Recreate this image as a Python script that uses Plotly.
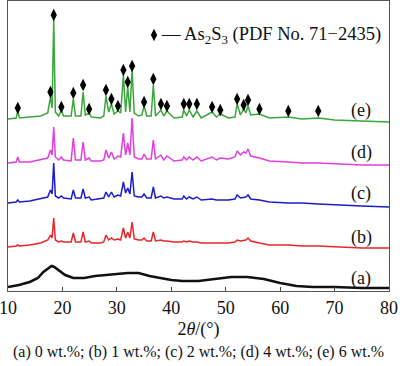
import plotly.graph_objects as go

# ---- data (2θ in degrees, intensity in arbitrary offset units) ----
two_theta = [10, 11.5, 11.8, 12.1, 14, 16, 17.3, 17.8, 18.1, 18.4, 18.7, 19.3, 19.8, 20.2,
             21.6, 22.0, 22.4, 23.4, 23.8, 24.2, 24.9, 25.3, 27, 27.6, 28.0, 28.5, 29.0,
             29.5, 30.2, 30.7, 31.2, 31.6, 32.0, 32.4, 32.8, 33.2, 34.0, 34.6, 35.0, 35.5,
             36.3, 36.7, 37.1, 38.1, 38.6, 39.2, 40.5, 42.0, 42.3, 42.8, 43.3, 44.0, 44.7,
             45.5, 47.5, 48.3, 49.0, 50.5, 51.7, 52.1, 52.7, 53.3, 53.7, 54.1, 54.6, 56.2,
             58, 61.5, 64, 67.0, 70, 75, 80]

int_e = [181, 182, 189, 182, 183, 184, 187, 203, 192, 280, 188, 184, 190, 184,
         184, 201, 184, 184, 208, 185, 187, 183, 182, 184, 204, 188, 196,
         186, 189, 187, 225, 188, 213, 188, 230, 187, 184, 185, 194, 184,
         184, 215, 184, 190, 184, 189, 182, 183, 190, 184, 190, 183, 189,
         182, 188, 183, 186, 182, 183, 196, 185, 191, 187, 194, 185, 186,
         182, 183, 181, 182, 180, 179, 178]

int_d = [137, 138, 143, 138, 138, 140, 142, 150, 145, 173, 143, 140, 143, 140,
         139, 162, 140, 140, 158, 140, 142, 139, 139, 140, 150, 142, 148,
         141, 144, 143, 167, 145, 157, 145, 182, 143, 141, 141, 146, 141,
         141, 160, 141, 145, 140, 144, 139, 140, 143, 140, 143, 140, 143,
         139, 143, 140, 142, 141, 143, 149, 145, 148, 147, 151, 144, 142,
         139, 138, 137, 137, 136, 135, 135]

int_c = [97, 98, 100, 98, 99, 101, 103, 110, 106, 137, 104, 102, 104, 102,
         101, 110, 102, 102, 111, 102, 103, 100, 101, 102, 108, 103, 108,
         103, 105, 104, 118, 107, 112, 106, 128, 104, 103, 103, 106, 102,
         102, 113, 102, 104, 102, 103, 101, 101, 104, 101, 103, 101, 103,
         100, 101, 100, 100, 100, 101, 105, 102, 103, 103, 105, 101, 100,
         98, 97, 97, 96, 95, 94, 93]

int_b = [53, 54, 55, 54, 55, 57, 60, 65, 62, 82, 60, 58, 59, 58,
         58, 67, 58, 58, 68, 58, 59, 57, 57, 58, 65, 60, 62,
         60, 61, 60, 72, 62, 68, 62, 78, 61, 60, 60, 62, 59,
         59, 68, 59, 60, 59, 59, 58, 58, 59, 58, 59, 58, 58,
         57, 57, 57, 57, 57, 58, 60, 59, 60, 60, 62, 59, 57,
         55, 55, 54, 54, 53, 52, 52]

two_theta_a = [10, 12, 14, 15.5, 16.5, 17.5, 18.0, 18.5, 19.5, 20.5, 22, 24, 26, 28, 30,
               32, 34, 36, 38, 40, 42, 45, 48, 51, 54, 57, 60, 63, 66, 70, 75, 80]
int_a = [13, 15, 18, 22, 28, 32, 34, 33, 29, 25, 22, 22, 24, 25, 26,
         27, 27, 24, 22, 20, 19, 19, 21, 23, 23, 21, 17, 14, 13, 13, 12, 12]

peak_pos = [11.8, 17.8, 18.4, 19.8, 22.0, 23.8, 24.9, 28.0, 29.0, 30.2, 31.2, 32.0, 32.8,
            35.0, 36.7, 38.1, 39.2, 42.3, 43.3, 44.7, 47.5, 49.0, 52.1, 53.3, 54.1,
            56.2, 61.5, 67.0]
peak_mark = [192, 208, 285, 193, 207, 215, 191, 210, 201, 194, 230, 218, 234,
             198, 221, 196, 194, 196, 196, 196, 193, 190, 201, 195, 200,
             191, 189, 189]

labels = ["(a)", "(b)", "(c)", "(d)", "(e)"]
label_y = [22, 63, 107, 148, 190]
label_x = 74.9
caption = "(a) 0 wt.%; (b) 1 wt.%; (c) 2 wt.%; (d) 4 wt.%; (e) 6 wt.%"
legend_text = "— As<sub>2</sub>S<sub>3</sub> (PDF No. 71−2435)"

SERIF = "Liberation Serif"

fig = go.Figure()
fig.add_trace(go.Scatter(x=two_theta_a, y=int_a, mode="lines",
                         line=dict(color="#111111", width=2.6), showlegend=False))
fig.add_trace(go.Scatter(x=two_theta, y=int_b, mode="lines",
                         line=dict(color="#e8262a", width=1.5), showlegend=False))
fig.add_trace(go.Scatter(x=two_theta, y=int_c, mode="lines",
                         line=dict(color="#1c1cc8", width=1.5), showlegend=False))
fig.add_trace(go.Scatter(x=two_theta, y=int_d, mode="lines",
                         line=dict(color="#e03ee0", width=1.5), showlegend=False))
fig.add_trace(go.Scatter(x=two_theta, y=int_e, mode="lines",
                         line=dict(color="#3aa53a", width=1.5), showlegend=False))
fig.add_trace(go.Scatter(x=peak_pos, y=peak_mark, mode="markers",
                         marker=dict(symbol="diamond-tall", size=9, color="black"),
                         name="As2S3 (PDF No. 71-2435)", showlegend=False))
# legend key diamond (placed in paper coordinates next to the key text)
fig.add_trace(go.Scatter(x=[(154 - 8) / 381], y=[(291 - 35) / 290], mode="markers",
                         xaxis="x2", yaxis="y2",
                         marker=dict(symbol="diamond-tall", size=9, color="black"),
                         showlegend=False, hoverinfo="skip"))

for t, yv in zip(labels, label_y):
    fig.add_annotation(x=label_x, y=yv, text=t, showarrow=False,
                       font=dict(family=SERIF, size=18, color="#111"))

fig.add_annotation(x=(160 - 8) / 381, y=(291 - 35) / 290, xref="paper", yref="paper",
                   text=legend_text, showarrow=False, xanchor="left", yanchor="middle",
                   borderpad=0, font=dict(family=SERIF, size=18.5, color="#111"))

fig.add_annotation(x=0.5, y=(291 - 352) / 290, xref="paper", yref="paper", text=caption,
                   showarrow=False, yanchor="middle", borderpad=0,
                   font=dict(family=SERIF, size=16, color="#111"))

fig.update_layout(
    width=400, height=366,
    margin=dict(l=8, r=11, t=1, b=75, pad=0, autoexpand=False),
    paper_bgcolor="white", plot_bgcolor="white",
    font=dict(family=SERIF, color="#111"),
    showlegend=False,
    xaxis=dict(range=[10, 80], tickmode="array", tickvals=[10, 20, 30, 40, 50, 60, 70, 80],
               ticks="inside", ticklen=4, tickcolor="#444", showline=True, mirror=True,
               linecolor="#555", linewidth=1, showgrid=False, zeroline=False,
               ticklabeloverflow="allow", automargin=False,
               tickfont=dict(family=SERIF, size=18, color="#111"),
               title=dict(text="2<i>θ</i>/(°)", font=dict(family=SERIF, size=18, color="#111"),
                          standoff=5)),
    yaxis=dict(range=[9, 299], showticklabels=False, ticks="", showline=True, mirror=True,
               linecolor="#555", linewidth=1, showgrid=False, zeroline=False,
               automargin=False),
    xaxis2=dict(range=[0, 1], overlaying="x", visible=False, fixedrange=True),
    yaxis2=dict(range=[0, 1], overlaying="y", visible=False, fixedrange=True),
)

fig.write_html("out.html", config={"displayModeBar": False},
               post_script="document.body.style.margin='0px';document.body.style.overflow='hidden';")
